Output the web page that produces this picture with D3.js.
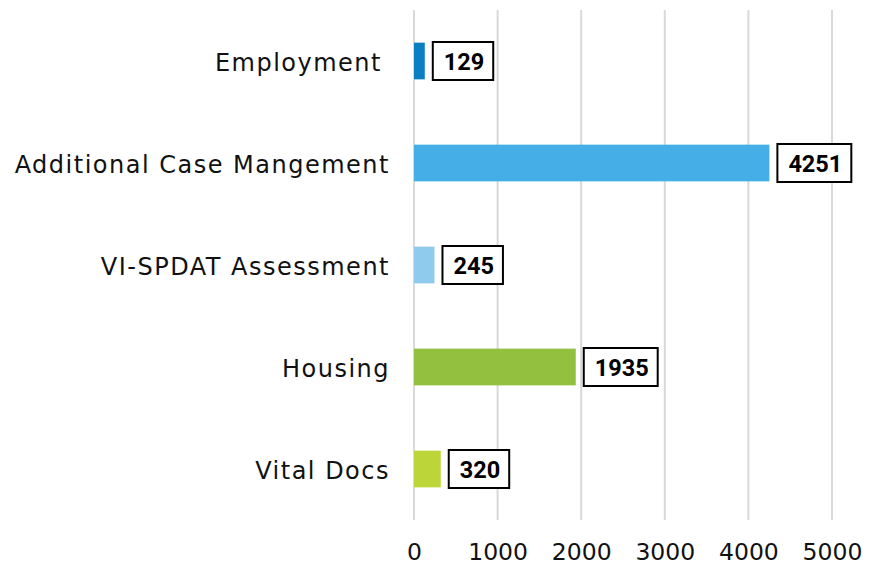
<!DOCTYPE html>
<html>
<head>
<meta charset="utf-8">
<script src="https://cdn.jsdelivr.net/npm/d3@7"></script>
<style>
  body { margin: 0; background: #fff; }
  svg { display: block; }
</style>
</head>
<body>
<svg id="chart" width="879" height="567"></svg>
<script>
// Chart data
const categories = ['Employment', 'Additional Case Mangement', 'VI-SPDAT Assessment', 'Housing', 'Vital Docs'];
const values = [129, 4251, 245, 1935, 320];
const barColors = ['#0a7fc2', '#45aee6', '#8ecbec', '#93c03f', '#bcd63a'];
const ticks = [0, 1000, 2000, 3000, 4000, 5000];

const conf = {
  left: 414,
  right: 832,
  top: 10,
  bottom: 520,
  labelFont: '"Century Gothic", "DejaVu Sans", sans-serif'
};

const svg = d3.select('#chart');

const x = d3.scaleLinear()
  .domain([0, 5000])
  .range([conf.left, conf.right]);

const y = d3.scaleBand()
  .domain(categories)
  .range([conf.top, conf.bottom])
  .paddingInner(0.64)
  .paddingOuter(0.32);

// Vertical gridlines
svg.append('g')
  .selectAll('line')
  .data(ticks)
  .enter().append('line')
  .attr('x1', d => x(d))
  .attr('x2', d => x(d))
  .attr('y1', conf.top)
  .attr('y2', conf.bottom)
  .attr('stroke', '#d9d9d9')
  .attr('stroke-width', 2);

// Bottom tick labels, baseline placed so the glyphs stay inside the frame
const xAxis = d3.axisBottom(x).tickValues(ticks).tickFormat(d3.format('d')).tickSize(0).tickPadding(0);
const gx = svg.append('g')
  .attr('transform', `translate(0,${conf.bottom + 40})`)
  .call(xAxis);
gx.select('.domain').remove();
gx.selectAll('text')
  .attr('font-family', conf.labelFont)
  .attr('font-size', 23.5)
  .attr('fill', '#111')
  .attr('dy', 0);

// Category labels
const yAxis = d3.axisLeft(y).tickSize(0).tickPadding(24);
const gy = svg.append('g')
  .attr('transform', `translate(${conf.left},0)`)
  .call(yAxis);
gy.select('.domain').remove();
gy.selectAll('text')
  .attr('font-family', conf.labelFont)
  .attr('font-size', 24)
  .attr('letter-spacing', '1.5px')
  .attr('fill', '#111')
  .attr('dy', '0.4em')
  .attr('dx', (d, i) => i === 0 ? -8 : 0);

// Bars
svg.append('g')
  .selectAll('rect')
  .data(values)
  .enter().append('rect')
  .attr('x', x(0))
  .attr('y', (d, i) => y(categories[i]))
  .attr('width', d => x(d) - x(0))
  .attr('height', y.bandwidth())
  .attr('fill', (d, i) => barColors[i]);

// Boxed value labels
const labels = svg.append('g')
  .selectAll('g')
  .data(values)
  .enter().append('g')
  .attr('transform', (d, i) => `translate(${x(d) + 8},${y(categories[i]) + y.bandwidth() / 2})`);

labels.append('text')
  .attr('x', 11)
  .attr('dy', '0.37em')
  .attr('font-family', 'Roboto, "Liberation Sans", sans-serif')
  .attr('font-weight', 'bold')
  .attr('font-size', 23.5)
  .attr('fill', '#000')
  .text(d => d);

labels.each(function() {
  const g = d3.select(this);
  const bb = g.select('text').node().getBBox();
  g.insert('rect', 'text')
    .attr('x', 0)
    .attr('y', -19)
    .attr('width', bb.width + 20)
    .attr('height', 38)
    .attr('fill', '#fff')
    .attr('stroke', '#000')
    .attr('stroke-width', 2);
});
</script>
</body>
</html>
